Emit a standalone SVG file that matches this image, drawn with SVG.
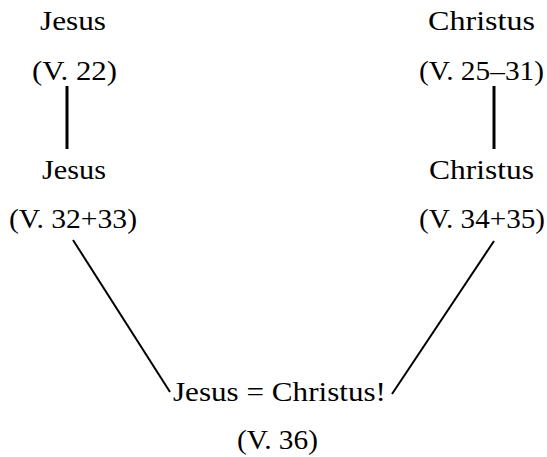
<svg xmlns="http://www.w3.org/2000/svg" width="547" height="457" viewBox="0 0 547 457">
<style>
text{font-family:"Liberation Serif","Times New Roman",serif;font-size:28px;fill:#000}
.v{stroke:#000;stroke-width:3;fill:none}
.d{stroke:#000;stroke-width:2;fill:none}
</style>
<rect width="547" height="457" fill="#fff"/>
<g id="connectors">
<line class="v" x1="67" y1="86" x2="67" y2="149"/>
<line class="v" x1="494" y1="86" x2="494" y2="149"/>
<line class="d" x1="73" y1="240" x2="170" y2="392"/>
<line class="d" x1="494" y1="241" x2="392" y2="394"/>
</g>
<g id="jesus1">
<text x="40" y="30" textLength="66" lengthAdjust="spacingAndGlyphs">Jesus</text>
<text x="32" y="80" textLength="85" lengthAdjust="spacingAndGlyphs">(V. 22)</text>
</g>
<g id="christus1">
<text x="428" y="30" textLength="107" lengthAdjust="spacingAndGlyphs">Christus</text>
<text x="419" y="80" textLength="125" lengthAdjust="spacingAndGlyphs">(V. 25–31)</text>
</g>
<g id="jesus2">
<text x="42" y="179" textLength="64" lengthAdjust="spacingAndGlyphs">Jesus</text>
<text x="9" y="228" textLength="128" lengthAdjust="spacingAndGlyphs">(V. 32+33)</text>
</g>
<g id="christus2">
<text x="429" y="179" textLength="105" lengthAdjust="spacingAndGlyphs">Christus</text>
<text x="419" y="228" textLength="126" lengthAdjust="spacingAndGlyphs">(V. 34+35)</text>
</g>
<g id="result">
<text x="173" y="401" textLength="213" lengthAdjust="spacingAndGlyphs">Jesus = Christus!</text>
<text x="237" y="449" textLength="81" lengthAdjust="spacingAndGlyphs">(V. 36)</text>
</g>
</svg>
